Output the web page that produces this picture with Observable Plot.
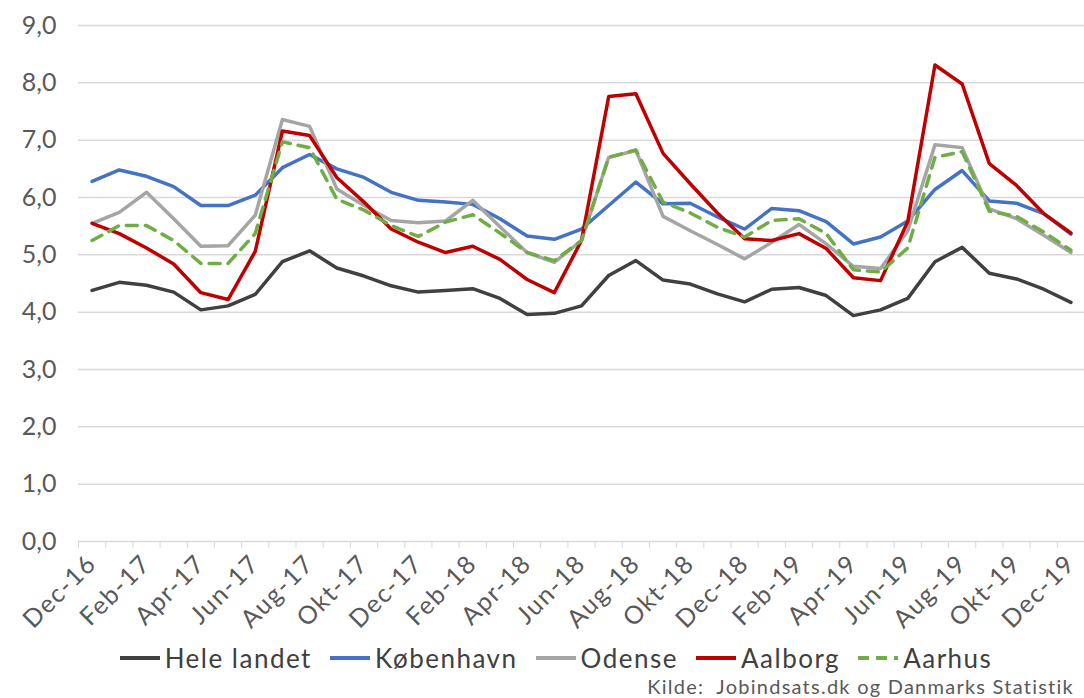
<!DOCTYPE html>
<html>
<head>
<meta charset="utf-8">
<script src="https://cdn.jsdelivr.net/npm/d3@7"></script>
<script src="https://cdn.jsdelivr.net/npm/@observablehq/plot@0.6"></script>
<style>
  html, body { margin: 0; padding: 0; background: #fff; }
  body { width: 1084px; height: 698px; overflow: hidden; font-family: Lato, "Open Sans", sans-serif; position: relative; }
  #chart { position: absolute; left: 0; top: 0; }
  #legend { position: absolute; left: 0; width: 1084px; top: 645px; height: 26px; display: flex; justify-content: center; gap: 18px; font-size: 26px; letter-spacing: 1.5px; color: #404040; padding-left: 28px; box-sizing: border-box; align-items: center; }
  .item { display: flex; align-items: center; gap: 5px; height: 26px; }
  .item span { display: inline-block; line-height: 26px; height: 26px; }
  #caption { position: absolute; right: 10px; top: 674px; line-height: 24px; height: 24px; font-size: 20px; letter-spacing: 1.25px; color: #595959; white-space: nowrap; }
  .xl text { letter-spacing: 1.5px; }
</style>
</head>
<body>
<div id="chart"></div>
<div id="legend"></div>
<div id="caption">Kilde:&nbsp; Jobindsats.dk og Danmarks Statistik</div>
<script>
const months = ["Dec-16","Jan-17","Feb-17","Mar-17","Apr-17","Maj-17","Jun-17","Jul-17","Aug-17","Sep-17","Okt-17","Nov-17",
  "Dec-17","Jan-18","Feb-18","Mar-18","Apr-18","Maj-18","Jun-18","Jul-18","Aug-18","Sep-18","Okt-18","Nov-18",
  "Dec-18","Jan-19","Feb-19","Mar-19","Apr-19","Maj-19","Jun-19","Jul-19","Aug-19","Sep-19","Okt-19","Nov-19","Dec-19"];

const seriesNames = ["Hele landet","København","Odense","Aalborg","Aarhus"];
const seriesColors = ["#404040","#4472C4","#A5A5A5","#C00000","#70AD47"];

const heleLandet = [4.38,4.52,4.47,4.35,4.04,4.11,4.31,4.88,5.07,4.77,4.63,4.46,4.35,4.38,4.41,4.24,3.96,3.98,4.11,4.64,4.90,4.56,4.49,4.32,4.18,4.40,4.43,4.29,3.94,4.04,4.24,4.88,5.13,4.68,4.58,4.40,4.17];
const kobenhavn = [6.28,6.48,6.37,6.19,5.86,5.86,6.04,6.52,6.75,6.50,6.35,6.09,5.95,5.92,5.88,5.63,5.33,5.27,5.45,5.86,6.27,5.89,5.90,5.66,5.45,5.81,5.77,5.58,5.19,5.31,5.59,6.14,6.47,5.94,5.90,5.72,5.36];
const odense = [5.55,5.74,6.09,5.63,5.15,5.16,5.69,7.36,7.24,6.15,5.86,5.60,5.56,5.59,5.95,5.49,5.04,4.87,5.25,6.70,6.82,5.67,5.42,5.18,4.93,5.22,5.53,5.19,4.80,4.76,5.42,6.92,6.87,5.80,5.63,5.34,5.04];
const aalborg = [5.55,5.37,5.12,4.84,4.34,4.22,5.06,7.16,7.08,6.35,5.92,5.45,5.22,5.04,5.15,4.92,4.57,4.34,5.25,7.76,7.81,6.77,6.24,5.73,5.28,5.25,5.37,5.11,4.60,4.55,5.58,8.31,7.98,6.59,6.21,5.72,5.38];
const aarhus = [5.25,5.51,5.51,5.25,4.85,4.85,5.37,6.97,6.87,5.97,5.78,5.51,5.32,5.57,5.70,5.38,5.04,4.90,5.25,6.70,6.83,5.92,5.73,5.48,5.31,5.60,5.63,5.37,4.74,4.70,5.12,6.70,6.80,5.76,5.67,5.40,5.08];

const yTicks = [0,1,2,3,4,5,6,7,8,9];

const seriesValues = [heleLandet, kobenhavn, odense, aalborg, aarhus];
const data = [];
seriesNames.forEach((name, s) => {
  seriesValues[s].forEach((v, i) => data.push({series: name, i, value: v}));
});
const boundaries = d3.range(months.length + 1).map(k => k - 0.5);
const labelIdx = d3.range(0, months.length, 2);

const fmt = d => d.toFixed(1).replace(".", ",");

const chart = Plot.plot({
  width: 1084,
  height: 640,
  marginLeft: 78,
  marginRight: 0,
  marginTop: 25,
  marginBottom: 99,
  style: { fontFamily: "Lato, 'Open Sans', sans-serif", background: "#fff", overflow: "visible" },
  x: { type: "linear", domain: [-0.5, months.length - 0.5] },
  y: { domain: [0, 9] },
  marks: [
    Plot.ruleY(yTicks, { stroke: "#d9d9d9", strokeWidth: 1.5 }),
    Plot.axisY({ ticks: yTicks, tickFormat: fmt, tickSize: 0, tickPadding: 22, fontSize: 25, color: "#595959", label: null }),
    Plot.axisX({ ticks: boundaries, tickSize: 7, tickFormat: () => "", stroke: "#d9d9d9", label: null }),
    Plot.axisX({ ticks: labelIdx, tickFormat: i => months[i], tickSize: 0, tickPadding: 18, tickRotate: -45, fontSize: 25, color: "#595959", label: null, className: "xl" }),
    ...seriesNames.map((name, s) => Plot.lineY(data.filter(d => d.series === name), {
      x: "i", y: "value", stroke: seriesColors[s], strokeWidth: 3.5,
      strokeDasharray: name === "Aarhus" ? "11,8" : null
    }))
  ]
});
document.getElementById("chart").appendChild(chart);

const legend = document.getElementById("legend");
seriesNames.forEach((name, s) => {
  const item = document.createElement("div");
  item.className = "item";
  const dash = name === "Aarhus" ? ' stroke-dasharray="11,7"' : '';
  item.innerHTML = `<svg width="40" height="10"><line x1="0" x2="40" y1="5" y2="5" stroke="${seriesColors[s]}" stroke-width="4"${dash}/></svg><span>${name}</span>`;
  legend.appendChild(item);
});
</script>
</body>
</html>
